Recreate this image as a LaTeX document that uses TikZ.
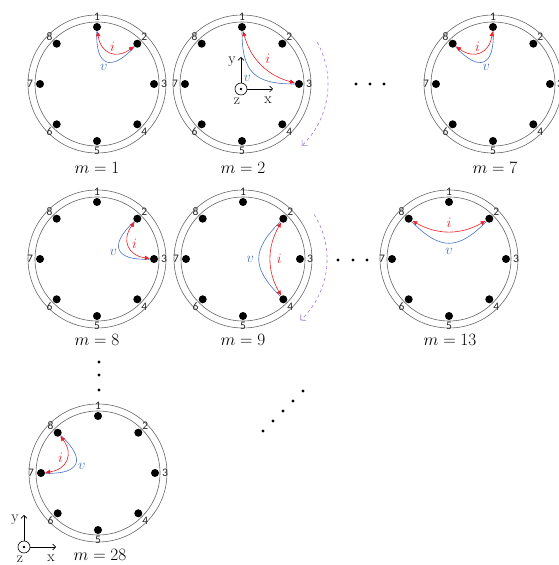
\documentclass[tikz,border=0pt]{standalone}
\usepackage{fontspec}
\newfontfamily\calibri{Carlito}
\usepackage{tikz}
\usetikzlibrary{calc, arrows.meta}

\definecolor{curred}{RGB}{235,30,35}
\definecolor{voltblue}{RGB}{70,115,200}
\definecolor{rotviolet}{RGB}{165,120,225}

% ring of 8 electrodes: #1 name, #2 centre
\newcommand{\eitring}[2]{%
  \coordinate (#1) at #2;
  \draw[ring] (#1) circle[radius=62pt] (#1) circle[radius=69pt];
  \foreach \k in {1,...,8}{
    \node[electrode] (#1-\k) at ($(#1)+({135-45*\k}:57pt)$) {};
    \node[elabel] (#1-l\k) at ($(#1)+({135-45*\k}:67pt)$) {\k};
  }
}
% drive pair: #1 ring, #2 #3 electrodes (clockwise), #4 adj/wide, #5 #6 label offsets
\newcommand{\drive}[6]{%
  \coordinate (#1-m) at ($(#1-#2)!.5!(#1-#3)$);
  \draw[volt] (#1-#2) to[#4 volt] (#1-#3);
  \draw[cur] (#1-#2) to[#4 cur] (#1-#3);
  \node[ilab] (#1-i) at ($(#1-m)!#5!(#1)$) {$i$};
  \node[vlab] (#1-v) at ($(#1-m)!#6!(#1)$) {$v$};
}
% axes: #1 name, #2 origin
\newcommand{\axesxyz}[2]{%
  \node[zdot] (#1) at #2 {};
  \coordinate (#1-x) at ($(#1)+(32pt,0)$);
  \coordinate (#1-y) at ($(#1)+(0,32pt)$);
  \draw[axis] (#1) -- (#1-x);
  \draw[axis] (#1) -- (#1-y);
  \fill (#1) circle[radius=1.4pt];
  \node[axlab] (#1-lx) at ($(#1-x)+(-5pt,-11pt)$) {x};
  \node[axlab] (#1-ly) at ($(#1-y)+(-9pt,-5pt)$) {y};
  \node[axlab] (#1-lz) at ($(#1)+(-4pt,-12pt)$) {z};
}

\begin{document}
\begin{tikzpicture}[
  x=1pt, y=1pt,
  ring/.style={draw=black!60, line width=0.6pt},
  electrode/.style={circle, fill=black, inner sep=0pt, minimum size=8pt},
  elabel/.style={font=\calibri\fontsize{11.5}{12}\selectfont, text=black!85, inner sep=0pt},
  cur/.style={draw=curred, line width=0.6pt,
    {Latex[length=5pt,width=4.5pt]}-{Latex[length=5pt,width=4.5pt]}},
  volt/.style={draw=voltblue, line width=0.6pt},
  adj cur/.style={bend right=60, looseness=1.45},
  adj volt/.style={bend right=70, looseness=2.2},
  wide cur/.style={bend right=30, looseness=1},
  wide volt/.style={bend right=45, looseness=1.4},
  ilab/.style={text=curred, font=\fontsize{15}{16}\selectfont, inner sep=0pt},
  vlab/.style={text=voltblue, font=\fontsize{15}{16}\selectfont, inner sep=0pt},
  mlab/.style={font=\fontsize{18}{20}\selectfont, inner sep=0pt},
  turn/.style={draw=rotviolet, line width=0.6pt, dashed, -{Straight Barb[length=4pt]}},
  zdot/.style={circle, draw, line width=0.6pt, minimum size=12pt, inner sep=0pt},
  axis/.style={line width=0.6pt, -{Straight Barb[length=3pt]}},
  axlab/.style={font=\fontsize{15}{16}\selectfont, inner sep=0pt},
]
  \useasboundingbox (0,0) rectangle (558,565);

  % first row
  \eitring{c1}{(97,481)}
  \eitring{c2}{(242,481)}
  \eitring{c7}{(493,481)}
  % second row
  \eitring{c8}{(97,306)}
  \eitring{c9}{(243,306)}
  \eitring{c13}{(449,306)}
  % last
  \eitring{c28}{(98,92)}

  \drive{c1}{1}{2}{adj}{12pt}{35pt}
  \drive{c2}{1}{3}{wide}{4pt}{33pt}
  \drive{c7}{8}{1}{adj}{12pt}{35pt}
  \drive{c8}{2}{3}{adj}{12pt}{35pt}
  \drive{c9}{2}{4}{wide}{4pt}{33pt}
  \drive{c13}{8}{2}{wide}{4pt}{33pt}
  \drive{c28}{7}{8}{adj}{12pt}{35pt}

  \node[mlab] (m1)  at (97,397)  {$m=1$};
  \node[mlab] (m2)  at (243,397) {$m=2$};
  \node[mlab] (m7)  at (495,397) {$m=7$};
  \node[mlab] (m8)  at (97,225)  {$m=8$};
  \node[mlab] (m9)  at (243,225) {$m=9$};
  \node[mlab] (m13) at (450,225) {$m=13$};
  \node[mlab] (m28) at (100,10)  {$m=28$};

  % rotation hints
  \draw[turn] ([shift={(29:86pt)}]c2) arc[start angle=29, end angle=-46, radius=86pt];
  \draw[turn] ([shift={(32:84pt)}]c9) arc[start angle=32, end angle=-47, radius=84pt];

  \axesxyz{o2}{(241,476)}
  \axesxyz{o28}{(24,18)}

  % ellipses
  \foreach \x in {356,370,384} \fill (\x,481) circle[radius=1.6pt];
  \foreach \x in {338,353,367} \fill (\x,305) circle[radius=1.6pt];
  \foreach \y in {203,190,175} \fill (99,\y) circle[radius=1.6pt];
  \foreach \x/\y in {263/134,273/144,283/154,293/164,303/174} \fill (\x,\y) circle[radius=1.6pt];
\end{tikzpicture}
\end{document}
